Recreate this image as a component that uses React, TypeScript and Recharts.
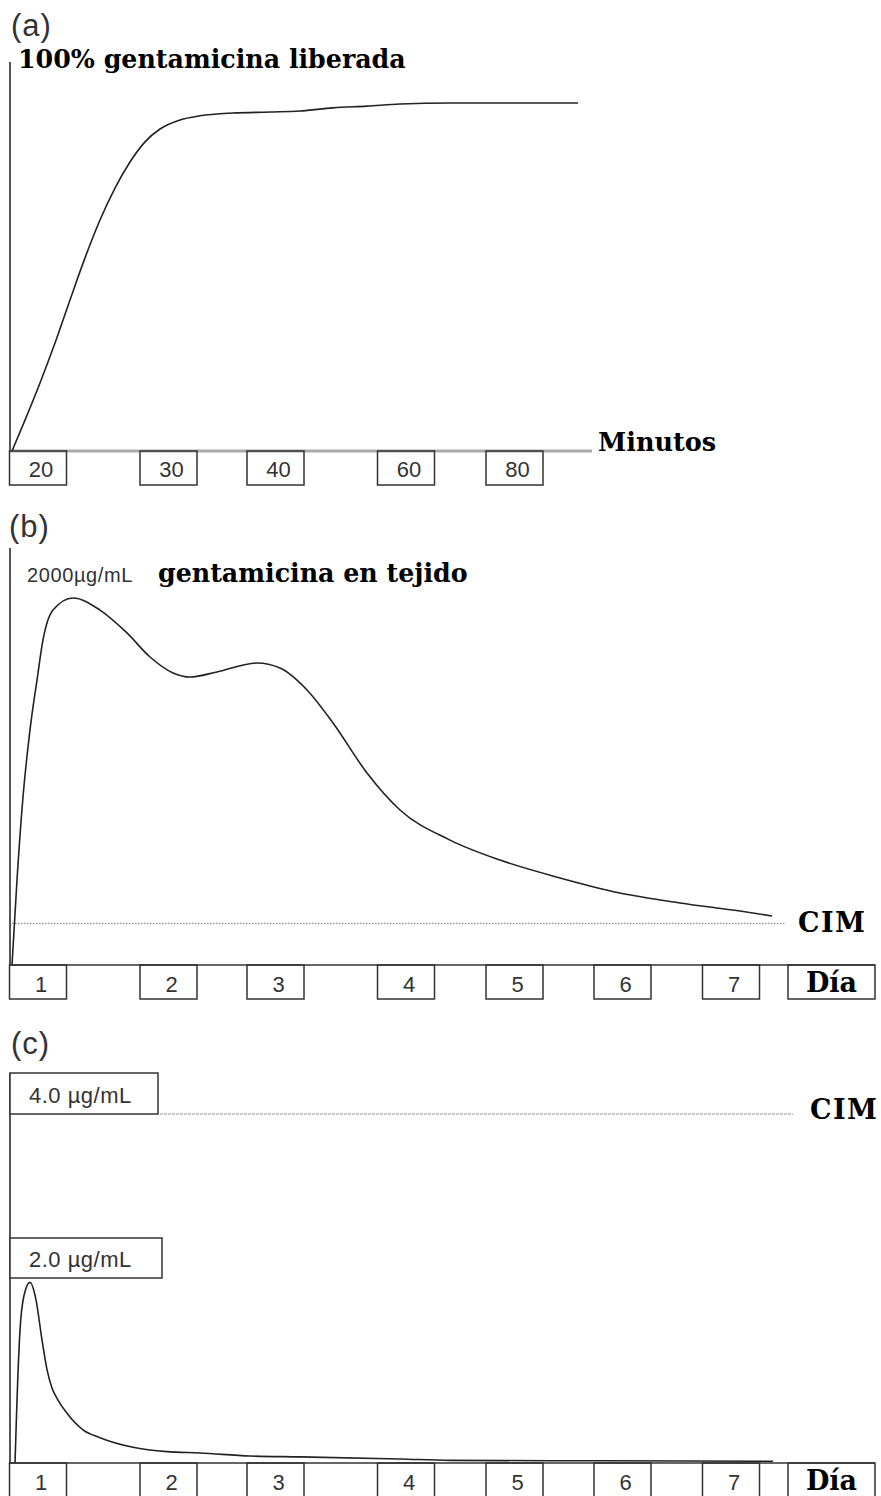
import React from 'react';
import { LineChart, Line, XAxis, YAxis, ReferenceLine } from 'recharts';

// ---------- data ----------
// Horizontal positions are on a shared schematic timeline (one unit = one tenth of a box step).
const minuteLabels = ['20', '30', '40', '60', '80'];
const minutePos = [2.8, 15.85, 26.55, 39.6, 50.45];

const dayLabels = ['1', '2', '3', '4', '5', '6', '7', 'Día'];
const dayPos = [2.8, 15.85, 26.55, 39.6, 50.45, 61.25, 72.1, 82.15];

// (a) % gentamicin released
const releaseT = [0.2, 1.5, 3.0, 4.5, 6.0, 7.5, 9.0, 10.5, 12.0, 13.5, 15.0, 17.0, 19.0, 22.3, 26.0, 29.0, 32.3, 35.7, 39.0, 44.0, 56.8];
const releasePct = [0, 8.9, 19.6, 31.1, 43.5, 55.6, 66.5, 75.7, 83.2, 89.0, 92.7, 95.3, 96.5, 97.3, 97.6, 97.9, 98.8, 99.3, 99.9, 100.2, 100.2];

// (b) gentamicin in tissue (µg/mL)
const tissueT = [0.2, 0.7, 1.3, 2.0, 2.7, 3.3, 4.3, 6.3, 9.0, 11.7, 14.0, 16.3, 18.0, 20.7, 24.7, 27.0, 29.7, 32.3, 35.7, 39.0, 44.0, 49.0, 55.0, 61.0, 67.0, 73.0, 76.2];
const tissueConc = [0, 438, 866, 1212, 1469, 1676, 1830, 1892, 1830, 1712, 1588, 1506, 1485, 1511, 1557, 1531, 1418, 1248, 990, 799, 644, 541, 449, 371, 320, 278, 253];
const tissueCim = 215;

// (c) serum level (µg/mL)
const serumT = [0.5, 0.7, 1.0, 1.4, 2.0, 2.6, 3.2, 3.7, 4.2, 4.8, 5.7, 7.3, 9.0, 12.3, 15.7, 19.0, 24.0, 29.0, 39.0, 44.0, 59.0, 76.3];
const serumConc = [0, 0.72, 1.52, 1.92, 2.07, 1.87, 1.41, 1.07, 0.86, 0.72, 0.57, 0.38, 0.29, 0.18, 0.13, 0.115, 0.08, 0.07, 0.046, 0.03, 0.025, 0.02];
const serumTicks = [2, 4];
const serumTickLabels = ['2.0 µg/mL', '4.0 µg/mL'];
const serumCim = 4;

// ---------- styles ----------
const SANS = '"Liberation Sans", Arial, sans-serif';
const SERIF = '"DejaVu Serif", serif';
const INK = '#222';
const BOX = '#333';
const X_DOMAIN: [number, number] = [0, 86.5];

const rows = (t: number[], v: number[]) => t.map((x, i) => ({ t: x, v: v[i] }));
const releaseData = rows(releaseT, releasePct);
const tissueData = rows(tissueT, tissueConc);
const serumData = rows(serumT, serumConc);

function BoxTick(props: any) {
  const { x, y, payload, positions, labels, boxH, textDy } = props;
  const i = positions.indexOf(payload.value);
  const label = labels[i];
  if (label === undefined) return null;
  const isWord = label === 'Día';
  const w = isWord ? 87 : 57;
  return (
    <g>
      <rect x={x - w / 2} y={y} width={w} height={boxH} fill="none" stroke={BOX} strokeWidth={1.5} />
      <text
        x={x + (isWord ? 0 : 3)}
        y={y + textDy}
        textAnchor="middle"
        fontFamily={isWord ? SERIF : SANS}
        fontWeight={isWord ? 700 : 400}
        fontSize={isWord ? 27 : 22}
        fill={isWord ? '#000' : '#333'}
      >
        {label}
      </text>
    </g>
  );
}

function ConcTick(props: any) {
  const { y, payload } = props;
  const i = serumTicks.indexOf(payload.value);
  if (i < 0) return null;
  const lift = i === 0 ? 10.5 : 0;
  const w = i === 0 ? 152 : 148;
  const h = i === 0 ? 40 : 41;
  const bottom = y - lift;
  const left = 10;
  return (
    <g>
      <rect x={left} y={bottom - h} width={w} height={h} fill="#fff" stroke={BOX} strokeWidth={1.5} />
      <text x={left + 19} y={bottom - 11} textAnchor="start" fontFamily={SANS} fontSize={22} fill="#333" letterSpacing={0.5}>
        {serumTickLabels[i]}
      </text>
    </g>
  );
}

const T = (p: any) => <text {...p} />;

export default function App() {
  return (
    <div style={{ position: 'absolute', left: 0, top: 0, width: 881, height: 1496, background: '#fff', overflow: 'hidden' }}>
      {/* (a) */}
      <div style={{ position: 'absolute', left: 0, top: 0 }}>
        <LineChart width={881} height={500} data={releaseData} margin={{ top: 62, right: 6, bottom: 9, left: 8 }}>
          <XAxis
            dataKey="t"
            type="number"
            domain={X_DOMAIN}
            allowDataOverflow
            ticks={minutePos}
            interval={0}
            tickSize={0}
            tickMargin={0}
            height={40}
            axisLine={false}
            tickLine={false}
            tick={(p: any) => <BoxTick {...p} positions={minutePos} labels={minuteLabels} boxH={34} textDy={26} />}
          />
          <YAxis type="number" domain={[0, 112]} allowDataOverflow width={2} tick={false} tickLine={false} axisLine={{ stroke: '#555', strokeWidth: 2 }} />
          <ReferenceLine segment={[{ x: 0, y: 0 }, { x: 58.2, y: 0 }]} stroke="#aaa" strokeWidth={3} ifOverflow="visible" />
          <Line type="monotone" dataKey="v" stroke={INK} strokeWidth={1.6} dot={false} isAnimationActive={false} />
        </LineChart>
      </div>

      {/* (b) */}
      <div style={{ position: 'absolute', left: 0, top: 500 }}>
        <LineChart width={881} height={510} data={tissueData} margin={{ top: 48, right: 6, bottom: 5, left: 8 }}>
          <XAxis
            dataKey="t"
            type="number"
            domain={X_DOMAIN}
            allowDataOverflow
            ticks={dayPos}
            interval={0}
            tickSize={0}
            tickMargin={0}
            height={40}
            axisLine={{ stroke: BOX, strokeWidth: 1.5 }}
            tickLine={false}
            tick={(p: any) => <BoxTick {...p} positions={dayPos} labels={dayLabels} boxH={34} textDy={27} />}
          />
          <YAxis type="number" domain={[0, 2150]} allowDataOverflow width={2} tick={false} tickLine={false} axisLine={{ stroke: '#555', strokeWidth: 2 }} />
          <ReferenceLine segment={[{ x: 0.2, y: tissueCim }, { x: 77.5, y: tissueCim }]} stroke="#777" strokeWidth={1} strokeDasharray="1.5 1.5" ifOverflow="visible" />
          <Line type="monotone" dataKey="v" stroke={INK} strokeWidth={1.6} dot={false} isAnimationActive={false} />
        </LineChart>
      </div>

      {/* (c) */}
      <div style={{ position: 'absolute', left: 0, top: 1010 }}>
        <LineChart width={881} height={486} data={serumData} margin={{ top: 63, right: 6, bottom: 0, left: 8 }}>
          <XAxis
            dataKey="t"
            type="number"
            domain={X_DOMAIN}
            allowDataOverflow
            ticks={dayPos}
            interval={0}
            tickSize={0}
            tickMargin={0}
            height={33}
            axisLine={{ stroke: BOX, strokeWidth: 1.5 }}
            tickLine={false}
            tick={(p: any) => <BoxTick {...p} positions={dayPos} labels={dayLabels} boxH={36} textDy={27} />}
          />
          <YAxis
            type="number"
            domain={[0, 4.47]}
            allowDataOverflow
            width={2}
            ticks={serumTicks}
            interval={0}
            tickSize={0}
            tickMargin={0}
            tickLine={false}
            axisLine={{ stroke: '#555', strokeWidth: 2 }}
            tick={(p: any) => <ConcTick {...p} />}
          />
          <ReferenceLine segment={[{ x: 15, y: serumCim }, { x: 78.3, y: serumCim }]} stroke="#999" strokeWidth={1} strokeDasharray="3 1" ifOverflow="visible" />
          <Line type="monotone" dataKey="v" stroke={INK} strokeWidth={1.6} dot={false} isAnimationActive={false} />
        </LineChart>
      </div>

      {/* text labels */}
      <svg width={881} height={1496} style={{ position: 'absolute', left: 0, top: 0, pointerEvents: 'none' }}>
        <T x={11} y={36} fontFamily={SANS} fontSize={31} fill="#333" letterSpacing={1}>(a)</T>
        <T x={18} y={68} fontFamily={SERIF} fontWeight={700} fontSize={25.3} fill="#000">100% gentamicina liberada</T>
        <T x={598} y={451} fontFamily={SERIF} fontWeight={700} fontSize={25.5} fill="#000">Minutos</T>

        <T x={9} y={537} fontFamily={SANS} fontSize={31} fill="#333" letterSpacing={1}>(b)</T>
        <T x={27} y={582} fontFamily={SANS} fontSize={20} fill="#333" letterSpacing={0.6}>2000µg/mL</T>
        <T x={158} y={582} fontFamily={SERIF} fontWeight={700} fontSize={25.3} fill="#000">gentamicina en tejido</T>
        <T x={798} y={932} fontFamily={SERIF} fontWeight={700} fontSize={27} fill="#000" letterSpacing={1.5}>CIM</T>

        <T x={11} y={1054} fontFamily={SANS} fontSize={31} fill="#333" letterSpacing={1}>(c)</T>
        <T x={810} y={1119} fontFamily={SERIF} fontWeight={700} fontSize={27} fill="#000" letterSpacing={1.5}>CIM</T>
      </svg>
    </div>
  );
}
